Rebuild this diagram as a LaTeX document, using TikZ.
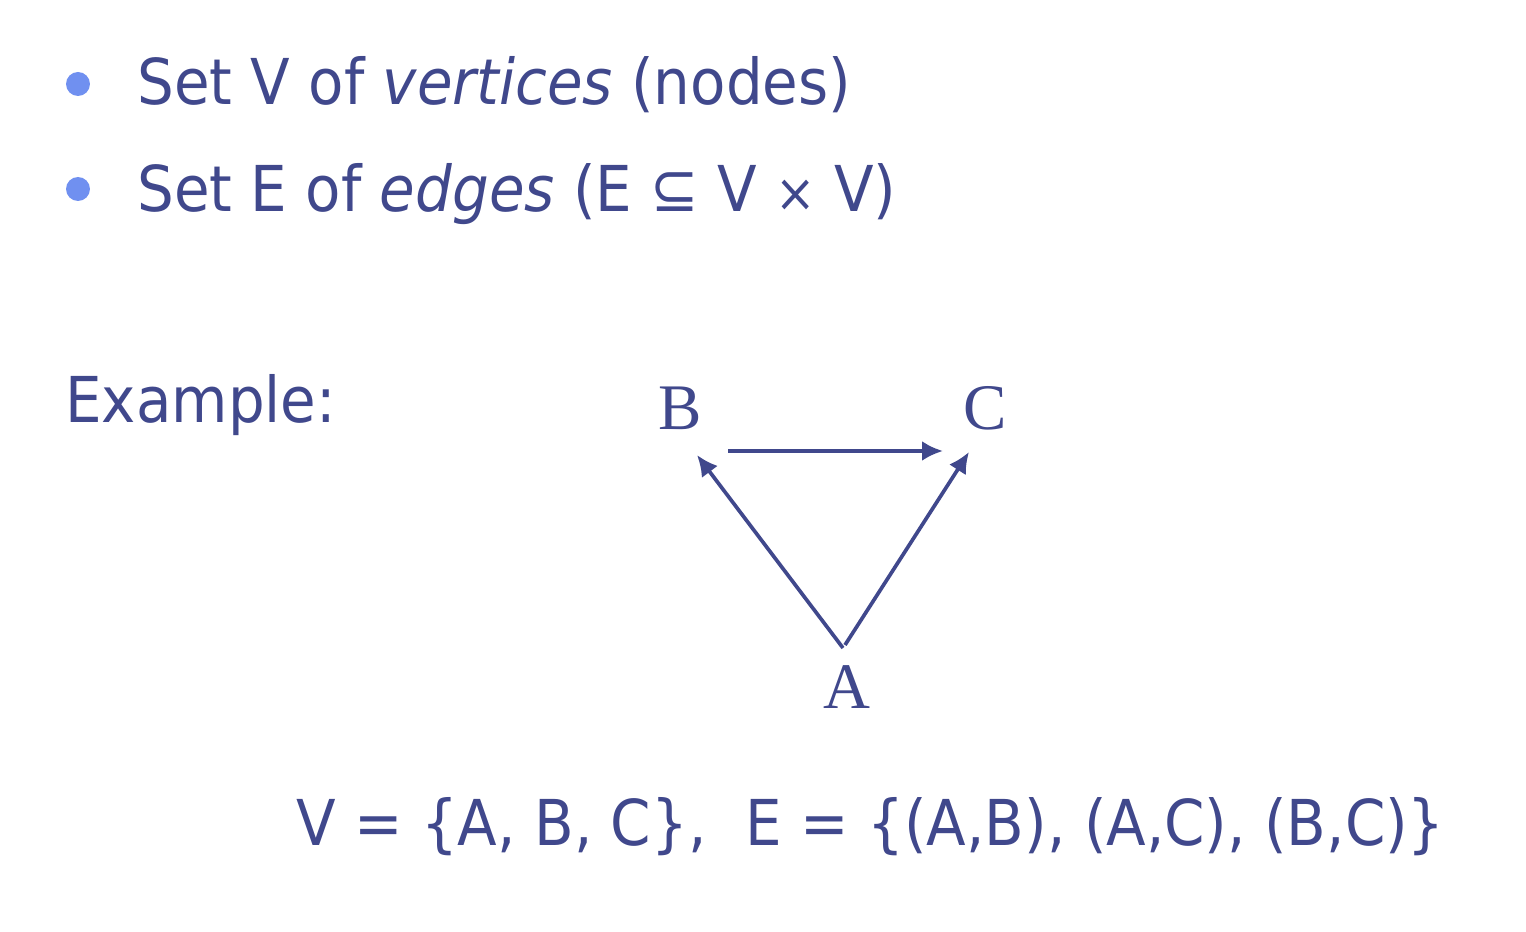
\documentclass[tikz,border=0pt]{standalone}
\usepackage{fontspec}
\setmainfont{DejaVu Sans}[FakeStretch=0.915]
\newfontfamily\vertexfont{Liberation Serif}
\usetikzlibrary{arrows.meta}
\definecolor{slateblue}{RGB}{64,72,140}
\definecolor{dotblue}{RGB}{112,144,240}

\begin{document}
\begin{tikzpicture}[x=0.02cm, y=-0.02cm,
    every node/.style={text=slateblue, inner sep=0pt},
    slide/.style={font=\fontsize{36}{40}\selectfont, anchor=base west},
    vertex/.style={font=\vertexfont\fontsize{37}{40}\selectfont, anchor=base},
    edge/.style={draw=slateblue, line width=2.1pt, -{Latex[length=0.42cm, width=0.4cm]}}]
  \useasboundingbox (0,0) rectangle (1526,932);
  % bullets
  \fill[dotblue] (78,84) circle (0.24cm);
  \fill[dotblue] (78,189) circle (0.24cm);
  \node[slide] (setv) at (137,105) {Set V of \textit{vertices} (nodes)};
  \node[slide] (sete) at (137,212) {Set E of \textit{edges} (E {\fontsize{36}{36}\selectfont ⊆} V {\fontsize{30}{30}\selectfont ×} V)};
  \node[slide] (example) at (65,423) {Example:};
  % the graph
  \node[vertex] (B) at (680,430) {B};
  \node[vertex] (C) at (985,430) {C};
  \node[vertex] (A) at (847,708) {A};
  \draw[edge] ([shift={(48,21)}]B.base) -- ([shift={(-42,21)}]C.base);
  \draw[edge] ([shift={(-4,-60)}]A.base) -- ([shift={(17,25)}]B.base);
  \draw[edge] ([shift={(-2,-63)}]A.base) -- ([shift={(-16,22)}]C.base);
  \node[slide] (sets) at (296,845) {V = \{A, B, C\},\hspace{0.62em}E = \{(A,B), (A,C), (B,C)\}};
\end{tikzpicture}
\end{document}
